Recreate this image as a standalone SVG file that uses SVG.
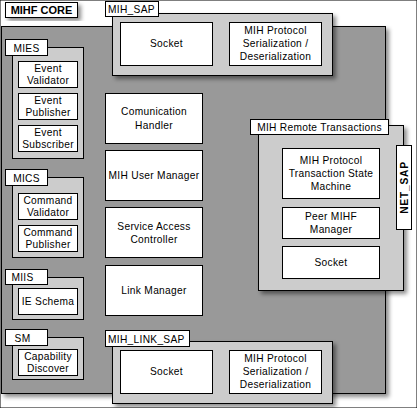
<svg xmlns="http://www.w3.org/2000/svg" width="417" height="408" viewBox="0 0 417 408">
<defs>
<filter id="sh" x="-10%" y="-10%" width="130%" height="130%">
<feDropShadow dx="3" dy="3" stdDeviation="2" flood-color="#000" flood-opacity="0.45"/>
</filter>
</defs>
<style>
rect{stroke:#000;stroke-width:1}
.core{fill:#999999}
.cont{fill:#cccccc}
.box{fill:#ffffff}
.lbl{fill:#ffffff}
text{font-family:"Liberation Sans",Arial,sans-serif;font-size:10.2px;fill:#000;text-anchor:middle;letter-spacing:0.3px}
.l{text-anchor:start}
.b{font-weight:bold;letter-spacing:0}
</style>
<rect x="0" y="0" width="417" height="408" fill="#fff" stroke="none"/>

<g id="mihf_core">
<rect class="core" x="1.5" y="26.5" width="384" height="367" filter="url(#sh)"/>
<rect class="lbl" x="5.5" y="2.5" width="72" height="15" filter="url(#sh)"/>
<text x="41.5" y="14" class="b" style="font-size:11px">MIHF CORE</text>
</g>

<g id="mih_sap">
<rect class="cont" x="112.5" y="13.5" width="220" height="62" filter="url(#sh)"/>
<rect class="lbl" x="105.5" y="1.5" width="53" height="15"/>
<text x="108" y="13" class="l">MIH_SAP</text>
<g id="socket_top">
<rect class="box" x="120.5" y="22.5" width="92" height="43"/>
<text x="166.5" y="47">Socket</text>
</g>
<g id="serial_top">
<rect class="box" x="229.5" y="22.5" width="92" height="43"/>
<text x="275.5" y="34">MIH Protocol</text>
<text x="275.5" y="47">Serialization /</text>
<text x="275.5" y="60">Deserialization</text>
</g>
</g>

<g id="mies">
<rect class="cont" x="12.5" y="47.5" width="71" height="111"/>
<rect class="lbl" x="5.5" y="39.5" width="42" height="16"/>
<text x="26.5" y="51.5">MIES</text>
<g id="event_validator">
<rect class="box" x="18.5" y="61.5" width="59" height="26"/>
<text x="48" y="71.5">Event</text>
<text x="48" y="84">Validator</text>
</g>
<g id="event_publisher">
<rect class="box" x="18.5" y="93.5" width="59" height="26"/>
<text x="48" y="103.5">Event</text>
<text x="48" y="116">Publisher</text>
</g>
<g id="event_subscriber">
<rect class="box" x="18.5" y="125.5" width="59" height="26"/>
<text x="48" y="135.5">Event</text>
<text x="48" y="148">Subscriber</text>
</g>
</g>

<g id="mics">
<rect class="cont" x="12.5" y="177.5" width="71" height="80"/>
<rect class="lbl" x="5.5" y="169.5" width="42" height="16"/>
<text x="26.5" y="181.5">MICS</text>
<g id="command_validator">
<rect class="box" x="18.5" y="193.5" width="59" height="26"/>
<text x="48" y="203.5">Command</text>
<text x="48" y="216">Validator</text>
</g>
<g id="command_publisher">
<rect class="box" x="18.5" y="225.5" width="59" height="26"/>
<text x="48" y="235.5">Command</text>
<text x="48" y="248">Publisher</text>
</g>
</g>

<g id="miis">
<rect class="cont" x="12.5" y="277.5" width="71" height="42"/>
<rect class="lbl" x="5.5" y="269.5" width="42" height="15"/>
<text x="22.5" y="280.5">MIIS</text>
<g id="ie_schema">
<rect class="box" x="18.5" y="288.5" width="59" height="26"/>
<text x="48" y="305">IE Schema</text>
</g>
</g>

<g id="sm">
<rect class="cont" x="12.5" y="337.5" width="71" height="42"/>
<rect class="lbl" x="5.5" y="329.5" width="42" height="16"/>
<text x="22.5" y="341.5">SM</text>
<g id="capability_discover">
<rect class="box" x="18.5" y="349.5" width="59" height="26"/>
<text x="48" y="359.5">Capability</text>
<text x="48" y="372">Discover</text>
</g>
</g>

<g id="comm_handler">
<rect class="box" x="105.5" y="93.5" width="97" height="50"/>
<text x="154" y="115">Comunication</text>
<text x="154" y="128.5">Handler</text>
</g>
<g id="user_manager">
<rect class="box" x="105.5" y="150.5" width="97" height="50"/>
<text x="154" y="179">MIH User Manager</text>
</g>
<g id="sac">
<rect class="box" x="105.5" y="207.5" width="97" height="50"/>
<text x="154" y="230">Service Access</text>
<text x="154" y="243">Controller</text>
</g>
<g id="link_manager">
<rect class="box" x="105.5" y="265.5" width="97" height="50"/>
<text x="154" y="294">Link Manager</text>
</g>

<g id="remote_transactions">
<rect class="cont" x="258.5" y="125.5" width="145" height="165" filter="url(#sh)"/>
<rect class="lbl" x="250.5" y="119.5" width="138" height="15"/>
<text x="319.5" y="131">MIH Remote Transactions</text>
<g id="transaction_sm">
<rect class="box" x="282.5" y="148.5" width="97" height="50"/>
<text x="331" y="164">MIH Protocol</text>
<text x="331" y="177">Transaction State</text>
<text x="331" y="190">Machine</text>
</g>
<g id="peer_manager">
<rect class="box" x="282.5" y="207.5" width="97" height="31"/>
<text x="331" y="219.5">Peer MIHF</text>
<text x="331" y="232.5">Manager</text>
</g>
<g id="socket_remote">
<rect class="box" x="282.5" y="246.5" width="97" height="32"/>
<text x="331" y="266">Socket</text>
</g>
</g>

<g id="net_sap">
<rect class="lbl" x="396.5" y="145.5" width="15" height="84"/>
<text x="0" y="0" class="b" transform="translate(407.5 187.5) rotate(-90)" style="letter-spacing:0.8px">NET_SAP</text>
</g>

<g id="mih_link_sap">
<rect class="cont" x="112.5" y="341.5" width="220" height="62" filter="url(#sh)"/>
<rect class="lbl" x="105.5" y="330.5" width="84" height="16"/>
<text x="108" y="342.5" class="l">MIH_LINK_SAP</text>
<g id="socket_bottom">
<rect class="box" x="120.5" y="350.5" width="92" height="43"/>
<text x="166.5" y="375">Socket</text>
</g>
<g id="serial_bottom">
<rect class="box" x="229.5" y="350.5" width="92" height="43"/>
<text x="275.5" y="362">MIH Protocol</text>
<text x="275.5" y="375">Serialization /</text>
<text x="275.5" y="388">Deserialization</text>
</g>
</g>

<g id="connectors"></g>
</svg>
